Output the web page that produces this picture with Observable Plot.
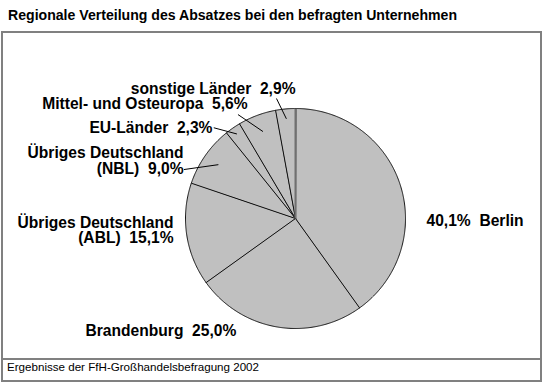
<!DOCTYPE html>
<html>
<head>
<meta charset="utf-8">
<script src="https://cdn.jsdelivr.net/npm/d3@7"></script>
<script src="https://cdn.jsdelivr.net/npm/@observablehq/plot@0.6"></script>
<style>
  body { margin: 0; background: #fff; width: 545px; height: 383px; position: relative; }
  #title { position: absolute; left: 8px; top: 7px; font: bold 14.1px "Liberation Sans", Arial, sans-serif; line-height: 16px; color: #000; white-space: nowrap; }
  #box { position: absolute; left: 1px; top: 31px; width: 537px; border: 2px solid #808080; }
  #chart { height: 325px; }
  #caption { border-top: 2px solid #808080; height: 20px; box-sizing: content-box; font: 11.6px "Liberation Sans", Arial, sans-serif; line-height: 14px; padding-left: 4px; color: #000; white-space: nowrap; }
</style>
</head>
<body>
<div id="title">Regionale Verteilung des Absatzes bei den befragten Unternehmen</div>
<div id="box">
  <div id="chart"></div>
  <div id="caption">Ergebnisse der FfH-Großhandelsbefragung 2002</div>
</div>
<script>
// ---- data ----
const categories = ["Berlin", "Brandenburg", "Übriges Deutschland (ABL)", "Übriges Deutschland (NBL)", "EU-Länder", "Mittel- und Osteuropa", "sonstige Länder"];
const labelNames = ["Berlin", "Brandenburg", "Übriges Deutschland\n(ABL)", "Übriges Deutschland\n(NBL)", "EU-Länder", "Mittel- und Osteuropa", "sonstige Länder"];
const shares = [40.1, 25.0, 15.1, 9.0, 2.3, 5.6, 2.9];

// ---- layout (in pie-radius units, centre = 0,0) ----
const labelLayout = [
  {x: 1.191, y: -0.064, anchor: "start", valueFirst: true},
  {x: -1.909, y: -1.064, anchor: "start"},
  {x: -1.109, y: -0.227, anchor: "end"},
  {x: -1.018, y: 0.409, anchor: "end"},
  {x: -0.755, y: 0.773, anchor: "end"},
  {x: -0.436, y: 0.991, anchor: "end"},
  {x: 0.0, y: 1.136, anchor: "end"}
];
const leaderLayout = [null, null, null,
  {r: 0.855, x: -1.015, y: 0.445},
  {r: 0.935, x: -0.743, y: 0.825},
  {r: 0.844, x: -0.523, y: 0.945},
  {r: 0.91, x: -0.173, y: 1.091}
];

const W = 537, H = 325, R = 110, CX = 292, CY = 185;

const fmt = v => v.toFixed(1).replace(".", ",") + "%";
const total = d3.sum(shares);

// slice polygons
const slicePts = [];
const mids = [];
let cum = 0;
shares.forEach((v, i) => {
  const a0 = cum / total * 2 * Math.PI;
  cum += v;
  const a1 = cum / total * 2 * Math.PI;
  mids.push((a0 + a1) / 2);
  slicePts.push({k: i, x: 0, y: 0});
  const n = Math.max(2, Math.ceil((a1 - a0) / (Math.PI / 360)));
  for (let j = 0; j <= n; j++) {
    const a = a0 + (a1 - a0) * j / n;
    slicePts.push({k: i, x: Math.sin(a), y: Math.cos(a)});
  }
});

const labels = categories.map((c, i) => ({
  text: labelLayout[i].valueFirst ? fmt(shares[i]) + "\u00a0\u00a0" + labelNames[i] : labelNames[i] + "\u00a0\u00a0" + fmt(shares[i]),
  x: labelLayout[i].x, y: labelLayout[i].y, anchor: labelLayout[i].anchor
}));

const leaders = leaderLayout.map((l, i) => l && ({
  x1: l.r * Math.sin(mids[i]), y1: l.r * Math.cos(mids[i]), x2: l.x, y2: l.y
})).filter(Boolean);

const textOpts = {x: "x", y: "y", text: "text", fontSize: 15.6, fontWeight: "bold", lineAnchor: "bottom", lineHeight: 1.02, fill: "#000"};

const chart = Plot.plot({
  width: W, height: H, margin: 0,
  x: {domain: [-CX / R, (W - CX) / R], axis: null},
  y: {domain: [-(H - CY) / R, CY / R], axis: null},
  style: {fontFamily: "'Liberation Sans', Arial, sans-serif", background: "white", overflow: "visible"},
  marks: [
    Plot.line(slicePts, {x: "x", y: "y", z: "k", curve: "linear-closed", fill: "#c0c0c0", stroke: "#111", strokeWidth: 1, strokeLinejoin: "miter"}),
    Plot.link([{x1: 0, y1: 0, x2: 0, y2: 1}], {x1: "x1", y1: "y1", x2: "x2", y2: "y2", stroke: "#707070", strokeWidth: 2}),
    Plot.link(leaders, {x1: "x1", y1: "y1", x2: "x2", y2: "y2", stroke: "#000", strokeWidth: 1}),
    Plot.text(labels.filter(d => d.anchor === "end"), {...textOpts, textAnchor: "end"}),
    Plot.text(labels.filter(d => d.anchor === "start"), {...textOpts, textAnchor: "start"})
  ]
});
document.getElementById("chart").appendChild(chart);
</script>
</body>
</html>
